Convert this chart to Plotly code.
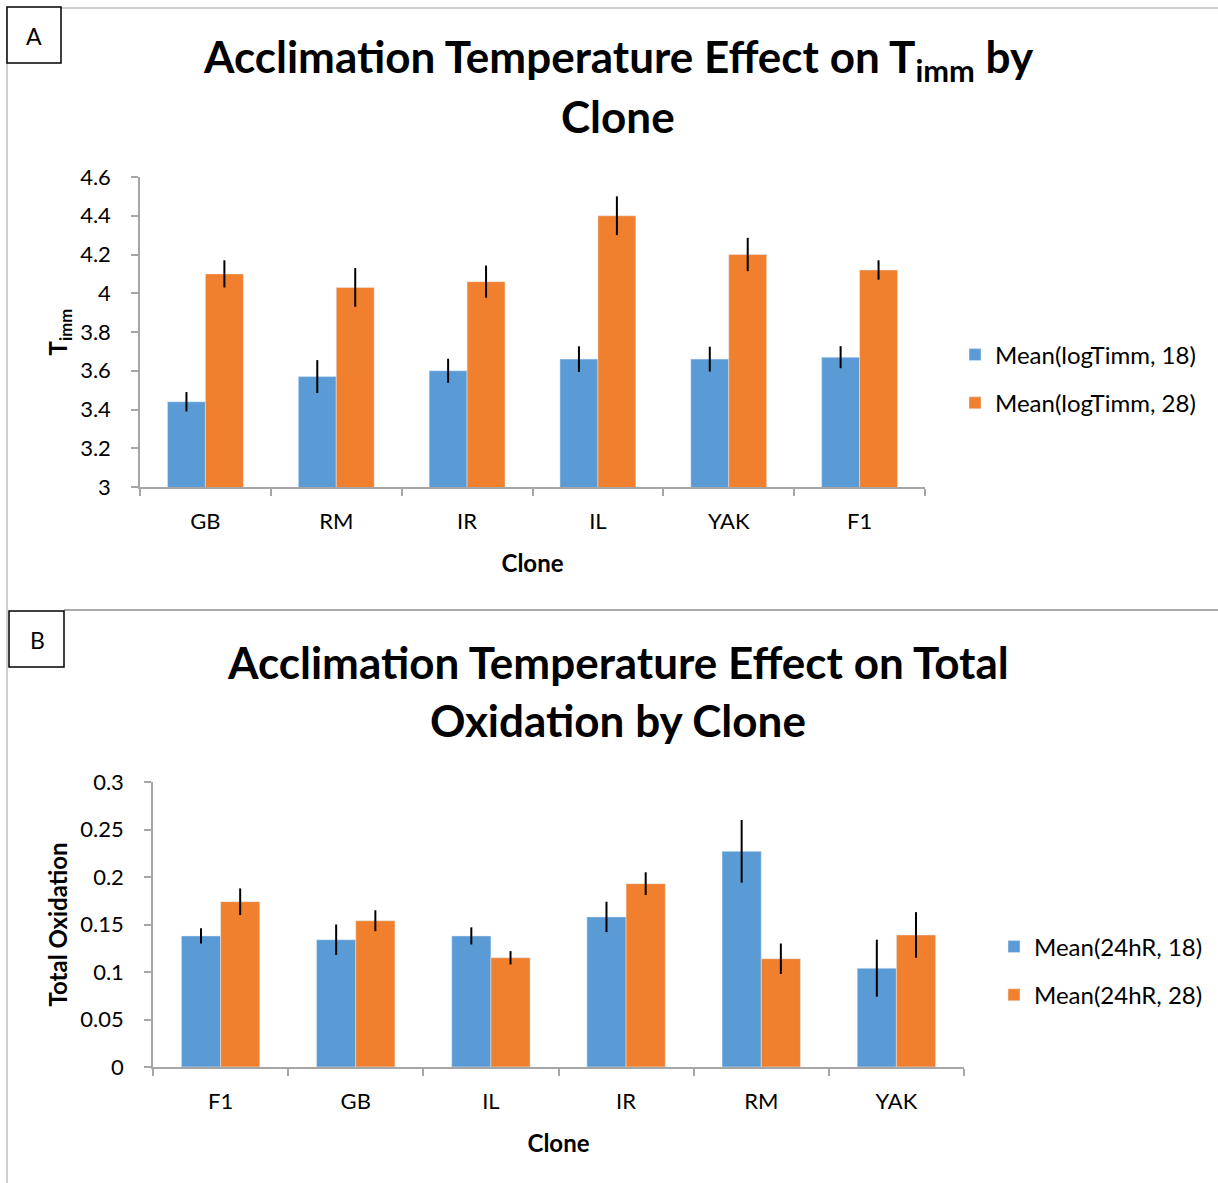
import plotly.graph_objects as go

# ---- Panel A data ----
clones_a = ["GB", "RM", "IR", "IL", "YAK", "F1"]
timm_18 = [3.44, 3.57, 3.60, 3.66, 3.66, 3.67]
timm_18_err = [0.05, 0.085, 0.062, 0.066, 0.064, 0.057]
timm_28 = [4.10, 4.03, 4.06, 4.40, 4.20, 4.12]
timm_28_err = [0.07, 0.10, 0.083, 0.10, 0.086, 0.05]

# ---- Panel B data ----
clones_b = ["F1", "GB", "IL", "IR", "RM", "YAK"]
ox_18 = [0.138, 0.134, 0.138, 0.158, 0.227, 0.104]
ox_18_err = [0.008, 0.016, 0.009, 0.016, 0.033, 0.030]
ox_28 = [0.174, 0.154, 0.115, 0.193, 0.114, 0.139]
ox_28_err = [0.014, 0.011, 0.007, 0.012, 0.016, 0.024]

BLUE = "#5B9BD5"
ORANGE = "#F07F2E"
FONT = "Lato"
W, H = 1218, 1183

def px(x):
    return x / W

def py(y):
    return 1 - y / H

fig = go.Figure()

def err(vals):
    return dict(type="data", array=vals, visible=True, color="black", thickness=2, width=0)

fig.add_trace(go.Bar(x=clones_a, y=timm_18, error_y=err(timm_18_err), name="Mean(logTimm, 18)",
                     marker=dict(color=BLUE), xaxis="x", yaxis="y", legend="legend", legendgroup="a1"))
fig.add_trace(go.Bar(x=clones_a, y=timm_28, error_y=err(timm_28_err), name="Mean(logTimm, 28)",
                     marker=dict(color=ORANGE), xaxis="x", yaxis="y", legend="legend", legendgroup="a2"))
fig.add_trace(go.Bar(x=clones_b, y=ox_18, error_y=err(ox_18_err), name="Mean(24hR, 18)",
                     marker=dict(color=BLUE), xaxis="x2", yaxis="y2", legend="legend2", legendgroup="b1"))
fig.add_trace(go.Bar(x=clones_b, y=ox_28, error_y=err(ox_28_err), name="Mean(24hR, 28)",
                     marker=dict(color=ORANGE), xaxis="x2", yaxis="y2", legend="legend2", legendgroup="b2"))

AXC = "#A6A6A6"
tickfont = dict(family=FONT, size=22, color="black")
titlefont = dict(family=FONT, size=24, color="black")

xcommon = dict(showline=True, linecolor=AXC, linewidth=1.5, ticks="outside", tickcolor=AXC,
               ticklen=7, tickwidth=1.5, tickson="boundaries", tickfont=tickfont, showgrid=False,
               zeroline=False, ticklabelstandoff=14)
ycommon = dict(showline=True, linecolor=AXC, linewidth=1.5, ticks="outside", tickcolor=AXC,
               ticklen=7, tickwidth=1.5, tickfont=tickfont, showgrid=False, zeroline=False,
               ticklabelstandoff=16)

fig.update_layout(
    width=W, height=H,
    margin=dict(l=0, r=0, t=0, b=0, autoexpand=False),
    paper_bgcolor="white", plot_bgcolor="white",
    barmode="group", bargap=0.42, bargroupgap=0,
    font=dict(family=FONT, color="black"),
    xaxis=dict(domain=[px(140), px(925)], anchor="y",
               title=dict(text="<b>Clone</b>", font=titlefont, standoff=22), **xcommon),
    yaxis=dict(domain=[py(487), py(177)], anchor="x", range=[3, 4.6], dtick=0.2,
               title=dict(text="<b>T<sub>imm</sub></b>", font=titlefont, standoff=6), **ycommon),
    xaxis2=dict(domain=[px(153), px(964)], anchor="y2",
                title=dict(text="<b>Clone</b>", font=titlefont, standoff=22), **xcommon),
    yaxis2=dict(domain=[py(1067), py(782)], anchor="x2", range=[0, 0.3], dtick=0.05,
                title=dict(text="<b>Total Oxidation</b>", font=titlefont, standoff=6), **ycommon),
    legend=dict(x=px(955), y=py(379), xanchor="left", yanchor="middle",
                font=dict(family=FONT, size=24, color="black"), tracegroupgap=14,
                traceorder="grouped", itemwidth=30, bgcolor="rgba(0,0,0,0)"),
    legend2=dict(x=px(994), y=py(971), xanchor="left", yanchor="middle",
                 font=dict(family=FONT, size=24, color="black"), tracegroupgap=14,
                 traceorder="grouped", itemwidth=30, bgcolor="rgba(0,0,0,0)"),
)

shapes = [
    dict(type="line", xref="paper", yref="paper", x0=px(7), x1=px(7), y0=py(8), y1=py(1183),
         line=dict(color="#BFBFBF", width=1.5)),
    dict(type="line", xref="paper", yref="paper", x0=px(61), x1=px(1218), y0=py(8), y1=py(8),
         line=dict(color="#BFBFBF", width=1.5)),
    dict(type="line", xref="paper", yref="paper", x0=px(64), x1=px(1218), y0=py(610), y1=py(610),
         line=dict(color="#8C8C8C", width=1.5)),
    dict(type="rect", xref="paper", yref="paper", x0=px(7), x1=px(61), y0=py(63), y1=py(7),
         line=dict(color="black", width=1.5), fillcolor="white"),
    dict(type="rect", xref="paper", yref="paper", x0=px(9), x1=px(64), y0=py(667), y1=py(611),
         line=dict(color="black", width=1.5), fillcolor="white"),
]

ann = [
    dict(text="A", x=px(34), y=py(36)),
    dict(text="B", x=px(37), y=py(640)),
]
annotations = [dict(text=a["text"], x=a["x"], y=a["y"], xref="paper", yref="paper", showarrow=False,
                    xanchor="center", yanchor="middle",
                    font=dict(family=FONT, size=23, color="black")) for a in ann]

title_lines = [
    ("<b>Acclimation Temperature Effect on T<sub>imm</sub> by</b>", 618, 60),
    ("<b>Clone</b>", 618, 116),
    ("<b>Acclimation Temperature Effect on Total</b>", 618, 662),
    ("<b>Oxidation by Clone</b>", 618, 720),
]
for t, x, y in title_lines:
    annotations.append(dict(text=t, x=px(x), y=py(y), xref="paper", yref="paper", showarrow=False,
                            xanchor="center", yanchor="middle",
                            font=dict(family=FONT, size=44, color="black")))

fig.update_layout(shapes=shapes, annotations=annotations)
fig.write_html("out.html")
